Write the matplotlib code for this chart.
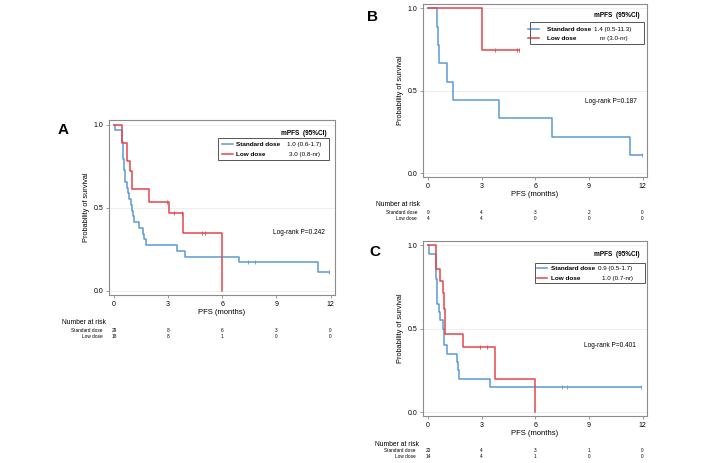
import numpy as np
import matplotlib.pyplot as plt
from matplotlib.patches import Rectangle

plt.rcParams['font.family'] = ['Liberation Sans', 'DejaVu Sans']

BLUE = '#5b9bd5'
RED = '#e3454b'
GREY = '#8c8c8c'

risk_times = [0, 3, 6, 9, 12]

# Painel A - todos os pacientes
a_std_t = [0, 0.08, 0.42, 0.45, 0.48, 0.50, 0.52, 0.55, 0.57, 0.60, 0.63, 0.70, 0.75,
           0.85, 0.92, 1.00, 1.07, 1.12, 1.38, 1.62, 1.68, 1.75, 3.48, 3.95, 6.90, 11.30]
a_std_s = [1.0, 0.966, 0.931, 0.897, 0.862, 0.828, 0.793, 0.759, 0.724, 0.690, 0.655, 0.621,
           0.586, 0.552, 0.517, 0.483, 0.448, 0.414, 0.379, 0.345, 0.310, 0.276, 0.241,
           0.207, 0.172, 0.115]
a_std_cens = [7.45, 7.8, 11.9]
a_std_end = 11.9
a_low_t = [0, 0.44, 0.74, 0.90, 1.00, 1.96, 3.02, 3.81, 6.0]
a_low_s = [1.0, 0.889, 0.778, 0.722, 0.611, 0.535, 0.467, 0.350, 0.0]
a_low_cens = [2.93, 3.3, 3.75, 4.9, 5.05]
a_low_end = 6.0
a_risk_std = [29, 8, 6, 3, 0]
a_risk_low = [18, 8, 1, 0, 0]
a_ci = ['1.0 (0.6-1.7)', '3.0 (0.8-nr)']
a_p = 'Log-rank P=0.242'

# Painel B
b_std_t = [0, 0.52, 0.57, 0.63, 1.04, 1.38, 3.95, 6.91, 11.28]
b_std_s = [1.0, 0.889, 0.778, 0.667, 0.556, 0.444, 0.333, 0.222, 0.111]
b_std_cens = [11.95]
b_std_end = 11.95
b_low_t = [0, 3.0]
b_low_s = [1.0, 0.75]
b_low_cens = [3.76, 5.0, 5.1]
b_low_end = 5.1
b_risk_std = [9, 4, 3, 2, 0]
b_risk_low = [4, 4, 0, 0, 0]
b_ci = ['1.4 (0.5-11.3)', 'nr (3.0-nr)']
b_p = 'Log-rank P=0.187'

# Painel C
c_std_t = [0, 0.07, 0.42, 0.44, 0.46, 0.48, 0.50, 0.52, 0.60, 0.67, 0.82, 0.87, 0.92,
           1.05, 1.62, 1.66, 1.72, 3.46]
c_std_s = [1.0, 0.95, 0.90, 0.85, 0.80, 0.75, 0.70, 0.65, 0.60, 0.55, 0.50, 0.45, 0.40,
           0.35, 0.30, 0.25, 0.20, 0.15]
c_std_cens = [7.49, 7.8, 11.9]
c_std_end = 11.9
c_low_t = [0, 0.43, 0.68, 0.82, 0.91, 0.96, 1.95, 3.73, 6.0]
c_low_s = [1.0, 0.857, 0.786, 0.714, 0.62, 0.466, 0.39, 0.195, 0.0]
c_low_cens = [2.9, 3.31]
c_low_end = 6.0
c_risk_std = [20, 4, 3, 1, 0]
c_risk_low = [14, 4, 1, 0, 0]
c_ci = ['0.9 (0.5-1.7)', '1.0 (0.7-nr)']
c_p = 'Log-rank P=0.401'


def curva(ax, t, s, fim, cens, cor):
    t = list(t) + [fim]
    s = list(s) + [s[-1]]
    ax.step(t, s, where='post', color=cor, lw=1.1, zorder=3)
    idx = np.searchsorted(t, cens, side='right') - 1
    ys = np.array(s)[idx]
    ax.plot(cens, ys, ls='none', marker='|', ms=3.5, mew=0.6, color=cor, zorder=4)


def painel(fig, rect, letra, dados, leg, cis, p_pos, risco):
    ax = fig.add_axes(rect)
    ax.set_xlim(-0.28, 12.25)
    ax.set_ylim(-0.024, 1.027)
    for y in [0, 0.5, 1.0]:
        ax.axhline(y, color='#ececec', lw=0.6, zorder=1)
    for t, s, fim, cens, cor in dados:
        curva(ax, t, s, fim, cens, cor)
    for sp in ax.spines.values():
        sp.set_color(GREY)
        sp.set_linewidth(0.8)
    ax.set_xticks([0, 3, 6, 9, 12])
    ax.set_yticks([0, 0.5, 1.0])
    ax.set_yticklabels(['0.0', '0.5', '1.0'])
    ax.tick_params(labelsize=5, length=2.5, width=0.6, color=GREY, pad=1.5)
    ax.set_xlabel('PFS (months)', fontsize=5.5, labelpad=1)
    ax.set_ylabel('Probability of survival', fontsize=5.3, labelpad=3)

    # legenda desenhada à mão (nome em negrito, IC normal)
    x0, x1, ytop, ybot, lx0, lx1, tx, cxs, rows, ttl = leg
    ax.add_patch(Rectangle((x0, ybot), x1 - x0, ytop - ybot, transform=ax.transAxes,
                           fill=False, ec='#555555', lw=0.7, zorder=5))
    ax.text(0.965, ttl, 'mPFS  (95%CI)', transform=ax.transAxes, fontsize=4.7,
            fontweight='bold', ha='right', va='center')
    nomes = ['Standard dose', 'Low dose']
    for yy, nome, cor, ci, cx in zip(rows, nomes, [BLUE, RED], cis, cxs):
        ax.plot([lx0, lx1], [yy, yy], color=cor, lw=1.1, transform=ax.transAxes)
        ax.text(tx, yy, nome, transform=ax.transAxes, fontsize=4.6, fontweight='bold',
                va='center')
        ax.text(cx, yy, ci, transform=ax.transAxes, fontsize=4.5, va='center')
    ax.text(p_pos[0], p_pos[1], p_pos[2], transform=ax.transAxes, fontsize=4.7,
            ha='right', va='center')

    # tabela de pacientes em risco
    W, H = 705.0, 463.0
    nx, ny, rx, ry1, ry2, rstd, rlow = risco
    fig.text(nx / W, 1 - ny / H, 'Number at risk', fontsize=4.9, va='center')
    fig.text(rx / W, 1 - ry1 / H, 'Standard dose', fontsize=3.4, va='center', ha='right')
    fig.text(rx / W, 1 - ry2 / H, 'Low dose', fontsize=3.4, va='center', ha='right')
    tr = ax.get_xaxis_transform()
    y1 = ax.transAxes.inverted().transform(fig.transFigure.transform((0, 1 - ry1 / H)))[1]
    y2 = ax.transAxes.inverted().transform(fig.transFigure.transform((0, 1 - ry2 / H)))[1]
    for xt, v1, v2 in zip(risk_times, rstd, rlow):
        ax.text(xt, y1, str(v1), transform=tr, fontsize=3.4, ha='center', va='center',
                clip_on=False)
        ax.text(xt, y2, str(v2), transform=tr, fontsize=3.4, ha='center', va='center',
                clip_on=False)

    fig.text(letra[1] / W, 1 - letra[2] / H, letra[0], fontsize=11, fontweight='bold',
             ha='center', va='center')
    return ax


def main():
    fig = plt.figure(figsize=(7.05, 4.63), dpi=100)

    painel(fig, [0.1546, 0.3629, 0.3206, 0.3779], ('A', 63, 130),
           [(a_std_t, a_std_s, a_std_end, a_std_cens, BLUE),
            (a_low_t, a_low_s, a_low_end, a_low_cens, RED)],
           (0.482, 0.975, 0.897, 0.771, 0.50, 0.55, 0.562, [0.786, 0.795], [0.861, 0.804], 0.924),
           a_ci, (0.956, 0.356, a_p),
           (62, 323, 103, 330, 336, a_risk_std, a_risk_low))

    painel(fig, [0.600, 0.6177, 0.3177, 0.3737], ('B', 373, 17),
           [(b_std_t, b_std_s, b_std_end, b_std_cens, BLUE),
            (b_low_t, b_low_s, b_low_end, b_low_cens, RED)],
           (0.478, 0.987, 0.898, 0.769, 0.469, 0.518, 0.555, [0.765, 0.79], [0.855, 0.802], 0.931),
           b_ci, (0.955, 0.435, b_p),
           (376, 205, 417, 212, 218, b_risk_std, b_risk_low))

    painel(fig, [0.600, 0.1015, 0.3177, 0.3786], ('C', 375, 252),
           [(c_std_t, c_std_s, c_std_end, c_std_cens, BLUE),
            (c_low_t, c_low_s, c_low_end, c_low_cens, RED)],
           (0.50, 0.991, 0.875, 0.757, 0.51, 0.555, 0.573, [0.78, 0.80], [0.842, 0.786], 0.924),
           c_ci, (0.952, 0.405, c_p),
           (375, 444, 416, 450, 456, c_risk_std, c_risk_low))

    fig.savefig('out.png', dpi=100)


if __name__ == "__main__":
    main()
